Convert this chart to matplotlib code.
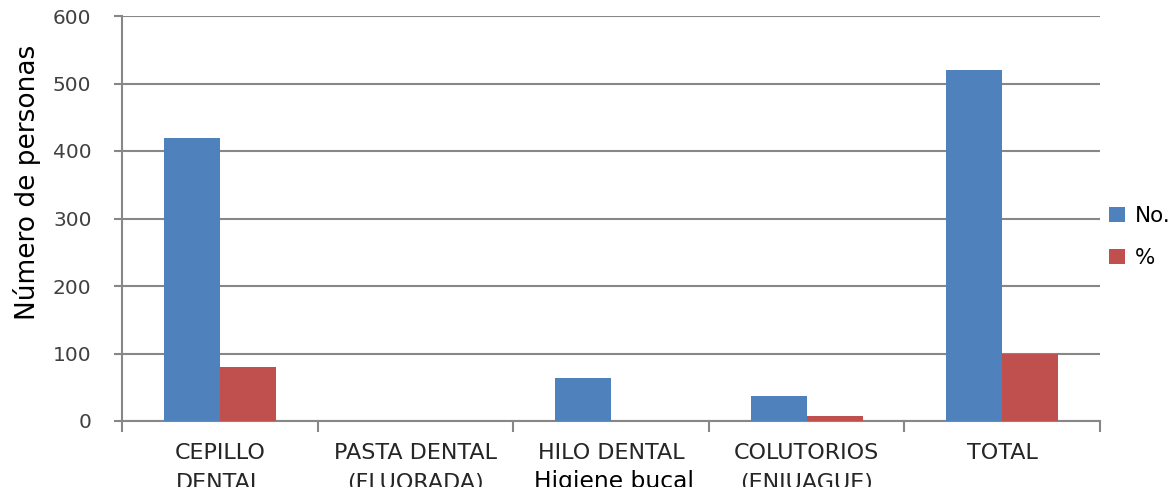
import matplotlib
matplotlib.use("Agg")
import matplotlib.pyplot as plt
import numpy as np
from matplotlib.patches import Patch, Rectangle

categories = ["CEPILLO\nDENTAL", "PASTA DENTAL\n(FLUORADA)", "HILO DENTAL", "COLUTORIOS\n(ENJUAGUE)", "TOTAL"]
series_names = ["No.", "%"]
no_values = [420, 0, 63, 37, 520]
pct_values = [80, 0, 0, 7, 100]
yticks = [0, 100, 200, 300, 400, 500, 600]

BLUE = "#4F81BD"
RED = "#C0504D"
GRID = "#878787"
TXT = "#262626"

plt.rcParams['font.family'] = ['DejaVu Sans']

fig = plt.figure(figsize=(11.76, 4.95), dpi=100)
ax = fig.add_axes([122/1176, 74/495, (1100-122)/1176, (421-16)/495])

n = len(categories)
centers = np.arange(n) + 0.5
w = 0.286
ax.bar(centers - w/2, no_values, width=w, color=BLUE, zorder=3)
ax.bar(centers + w/2, pct_values, width=w, color=RED, zorder=3)

ax.set_xlim(0, n)
ax.set_ylim(0, 600)
ax.set_yticks(yticks)
ax.set_yticklabels([str(v) for v in yticks], fontsize=14.5, color="#404040")
ax.tick_params(axis='y', length=6, width=1.5, color=GRID, pad=16)
ax.yaxis.grid(True, color=GRID, linewidth=1.5, zorder=0)

ax.set_xticks(np.arange(n + 1))
ax.set_xticklabels([])
ax.tick_params(axis='x', which='major', length=8, width=1.5, color=GRID, direction='out')
ax.set_xticks(centers, minor=True)
ax.set_xticklabels(categories, minor=True, fontsize=16, color=TXT, linespacing=1.62)
ax.tick_params(axis='x', which='minor', length=0, pad=16)

for s in ['top', 'right']:
    ax.spines[s].set_visible(False)
for s in ['left', 'bottom']:
    ax.spines[s].set_color(GRID)
    ax.spines[s].set_linewidth(1.5)

fig.text(27/1176, 1 - 182/495, "Número de personas", rotation=90, ha='center', va='center',
         fontsize=19, color='black')
fig.text(614/1176, 1 - 470/495, "Higiene bucal", ha='center', va='top', fontsize=16.8, color='black')

handles = [Patch(facecolor=BLUE), Patch(facecolor=RED)]
fig.legend(handles, series_names, loc='center left', bbox_to_anchor=(1100/1176, 1 - 237/495),
           frameon=False, fontsize=15.5, handlelength=0.75, handleheight=0.7,
           handletextpad=0.45, labelspacing=1.0, borderaxespad=0)

# the reference picture is cut off a few pixels above its bottom edge
fig.add_artist(Rectangle((0, 0), 1, 8/495, transform=fig.transFigure, facecolor='white',
                         edgecolor='none', zorder=10))

fig.savefig("out.png", dpi=100)
